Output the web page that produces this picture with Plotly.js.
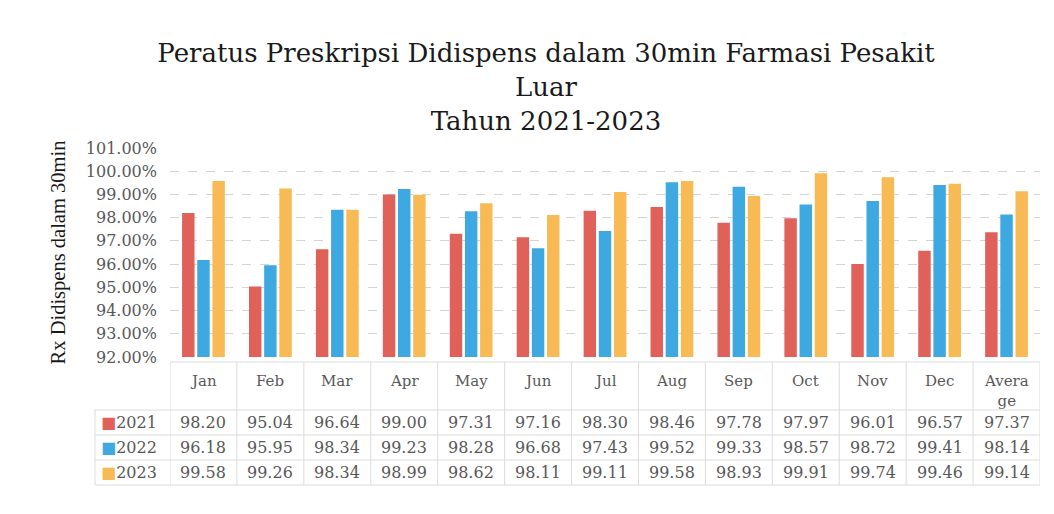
<!DOCTYPE html>
<html>
<head>
<meta charset="utf-8">
<script src="https://cdn.plot.ly/plotly-3.0.1.min.js"></script>
<style>html,body{margin:0;padding:0;background:#fff;}#chart{width:1054px;height:514px;}</style>
</head>
<body>
<div id="chart"></div>
<script>
// ---- data ----
const categories = ['Jan','Feb','Mar','Apr','May','Jun','Jul','Aug','Sep','Oct','Nov','Dec','Average'];
const headerLabels = ['Jan','Feb','Mar','Apr','May','Jun','Jul','Aug','Sep','Oct','Nov','Dec','Avera<br>ge'];
const seriesNames = ['2021','2022','2023'];
const values2021 = [98.20,95.04,96.64,99.00,97.31,97.16,98.30,98.46,97.78,97.97,96.01,96.57,97.37];
const values2022 = [96.18,95.95,98.34,99.23,98.28,96.68,97.43,99.52,99.33,98.57,98.72,99.41,98.14];
const values2023 = [99.58,99.26,98.34,98.99,98.62,98.11,99.11,99.58,98.93,99.91,99.74,99.46,99.14];
const seriesValues = [values2021, values2022, values2023];
const colors = ['#E0605A','#3DA9E0','#F8BA55'];

// ---- geometry (px) ----
const W = 1054, H = 514;
const plotL = 170, plotR = 1040, plotT = 148, plotB = 357;
const plotH = plotB - plotT, plotW = plotR - plotL;
const py = px => (plotB - px) / plotH;      // pixel y -> paper y
const pxX = px => (px - plotL) / plotW;     // pixel x -> paper x

const headerTop = 370;
const rowYs = [422, 447, 472];
const hLines = [362, 410, 435, 460, 485];
const tableLeft = 95;
const serif = 'DejaVu Serif, serif';
const gray = '#595959';
const lineColor = '#dcdcdc';

const traces = seriesNames.map((n, i) => ({
  type: 'bar', name: n, x: categories, y: seriesValues[i],
  marker: {color: colors[i]}, hoverinfo: 'x+y+name'
}));

const annotations = [];
const shapes = [];

// header
categories.forEach((c, k) => {
  annotations.push({x: c, xref: 'x', y: py(headerTop), yref: 'paper', yanchor: 'top', text: headerLabels[k],
    showarrow: false, font: {family: serif, size: 15, color: gray}});
});
// rows
seriesNames.forEach((n, i) => {
  annotations.push({x: pxX(tableLeft + 4), xref: 'paper', xanchor: 'left', y: py(rowYs[i]), yref: 'paper',
    yanchor: 'middle',
    text: '<span style="color:' + colors[i] + '">■</span>' + n, showarrow: false,
    font: {family: serif, size: 16, color: gray}});
  categories.forEach((c, k) => {
    annotations.push({x: c, xref: 'x', y: py(rowYs[i]), yref: 'paper', yanchor: 'middle',
      text: seriesValues[i][k].toFixed(2),
      showarrow: false, font: {family: serif, size: 16, color: gray}});
  });
});
// table lines
hLines.forEach((yy, j) => {
  shapes.push({type: 'line', xref: 'paper', yref: 'paper', x0: j === 0 ? 0 : pxX(tableLeft), x1: 1,
    y0: py(yy), y1: py(yy), line: {color: lineColor, width: 1}});
});
for (let k = 0; k <= categories.length; k++) {
  shapes.push({type: 'line', xref: 'x', yref: 'paper', x0: k - 0.5, x1: k - 0.5,
    y0: py(hLines[0]), y1: py(hLines[hLines.length - 1]), line: {color: lineColor, width: 1}});
}
shapes.push({type: 'line', xref: 'paper', yref: 'paper', x0: pxX(tableLeft), x1: pxX(tableLeft),
  y0: py(hLines[1]), y1: py(hLines[hLines.length - 1]), line: {color: lineColor, width: 1}});

const layout = {
  width: W, height: H,
  margin: {l: plotL, r: W - plotR, t: plotT, b: H - plotB},
  paper_bgcolor: '#fff', plot_bgcolor: '#fff',
  showlegend: false,
  barmode: 'group', bargap: 0.32, bargroupgap: 0.18,
  title: {text: 'Peratus Preskripsi Didispens dalam 30min Farmasi Pesakit<br>Luar<br>Tahun 2021-2023',
    font: {family: serif, size: 26, color: '#1a1a1a'},
    x: 546 / W, xref: 'container', xanchor: 'center', y: 1 - 62 / H, yref: 'container', yanchor: 'top'},
  xaxis: {type: 'category', range: [-0.5, 12.5], showticklabels: false, ticks: '', showgrid: false,
    showline: false, zeroline: false, fixedrange: true},
  yaxis: {range: [92, 101], dtick: 1, tickformat: '.2f', ticksuffix: '%',
    tickfont: {family: serif, size: 16, color: gray}, ticklabelstandoff: 12,
    showgrid: true, gridcolor: '#d4d4d4', griddash: 'dash', zeroline: false, showline: false,
    ticks: '', ticklen: 0,
    title: {text: 'Rx Didispens dalam 30min', font: {family: 'Liberation Serif, serif', size: 20.5, color: '#1a1a1a'}, standoff: 14}},
  annotations: annotations,
  shapes: shapes
};

Plotly.newPlot('chart', traces, layout, {displayModeBar: false, staticPlot: true});
</script>
</body>
</html>
